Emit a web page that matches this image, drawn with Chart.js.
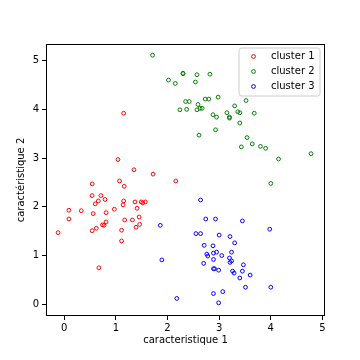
<!DOCTYPE html>
<html><head><meta charset="utf-8">
<script src="https://cdn.jsdelivr.net/npm/chart.js@4/dist/chart.umd.min.js"></script>
<style>html,body{margin:0;padding:0;background:#fff;}</style>
</head><body>
<canvas id="c" width="360" height="360"></canvas>
<script>
const seriesNames = ['cluster 1', 'cluster 2', 'cluster 3'];
const seriesColors = ['#ff0000', '#008000', '#0000ff'];

const cluster1X = [-0.12,0.09,0.09,0.33,0.54,0.54,0.56,0.54,0.60,0.62,0.66,0.71,0.74,0.77,0.79,0.81,0.81,0.97,0.67,1.04,1.07,1.11,1.11,1.15,1.15,1.14,1.16,1.17,1.32,1.35,1.37,1.41,1.39,1.45,1.46,1.49,1.52,1.57,1.72,2.16];
const cluster1Y = [1.47,1.93,1.75,1.92,2.47,2.23,1.86,1.51,2.06,1.56,2.12,2.23,1.63,1.62,2.15,1.88,1.69,1.95,0.75,2.97,2.53,1.52,1.30,3.92,2.12,2.04,2.42,1.73,1.73,2.76,2.10,1.97,1.58,1.79,1.64,2.10,2.08,2.10,2.67,2.53];

const cluster2X = [1.71,2.02,2.15,2.30,2.30,2.57,2.82,2.54,2.24,2.35,2.42,2.37,2.59,2.57,2.63,2.67,2.73,2.80,2.98,2.61,2.88,2.95,2.93,3.15,3.20,3.20,3.30,3.36,3.40,3.40,3.43,3.52,3.54,3.64,3.68,3.80,3.90,4.15,4.00,4.78];
const cluster2Y = [5.11,4.60,4.53,4.74,4.73,4.71,4.72,4.56,3.99,4.16,4.16,4.00,4.10,3.99,4.02,4.02,4.21,4.21,4.25,3.47,3.89,3.84,3.58,3.93,3.84,3.82,4.07,3.95,3.93,3.72,3.23,4.18,3.42,3.29,3.92,3.24,3.20,2.98,2.48,3.09];

const cluster3X = [1.86,1.89,2.18,2.64,2.74,2.93,3.45,2.55,2.64,3.00,3.21,3.30,2.71,2.88,3.98,2.76,2.78,2.95,2.89,3.05,3.24,2.89,3.20,3.24,3.21,2.70,3.47,2.89,2.91,2.99,3.26,3.29,3.45,3.60,3.40,3.51,4.00,3.07,2.89,2.99];
const cluster3Y = [1.62,0.91,0.12,2.14,1.75,1.75,1.71,1.45,1.45,1.42,1.39,1.26,1.21,1.20,1.54,1.03,0.99,1.07,1.05,1.00,1.07,0.92,0.95,0.89,0.86,0.84,0.81,0.73,0.73,0.70,0.68,0.64,0.68,0.60,0.54,0.35,0.35,0.26,0.22,0.03];

const xTicks = [0, 1, 2, 3, 4, 5];
const yTicks = [0, 1, 2, 3, 4, 5];
const xTitle = 'caracteristique 1';
const yTitle = 'caractéristique 2';

const allX = [cluster1X, cluster2X, cluster3X];
const allY = [cluster1Y, cluster2Y, cluster3Y];

const FONT = 'DejaVu Sans';

const datasets = seriesNames.map((name, i) => ({
  label: name,
  data: allX[i].map((x, j) => ({ x: x, y: allY[i][j] })),
  borderColor: seriesColors[i],
  backgroundColor: 'rgba(0,0,0,0)',
  pointRadius: 1.9,
  pointBorderWidth: 1,
  pointHoverRadius: 1.9,
  showLine: false
}));

const frameAndLegend = {
  id: 'frameAndLegend',
  afterDraw(chart) {
    const ctx = chart.ctx;
    const a = chart.chartArea;
    ctx.save();
    ctx.strokeStyle = '#000';
    ctx.lineWidth = 1;
    ctx.strokeRect(Math.round(a.left) + 0.5, Math.round(a.top) + 0.5,
      Math.round(a.right - a.left) - 1, Math.round(a.bottom - a.top) - 1);

    const x0 = a.right - 86, y0 = a.top + 4, w = 81, h = 48, r = 2.5;
    ctx.beginPath();
    ctx.moveTo(x0 + r, y0);
    ctx.lineTo(x0 + w - r, y0);
    ctx.arcTo(x0 + w, y0, x0 + w, y0 + r, r);
    ctx.lineTo(x0 + w, y0 + h - r);
    ctx.arcTo(x0 + w, y0 + h, x0 + w - r, y0 + h, r);
    ctx.lineTo(x0 + r, y0 + h);
    ctx.arcTo(x0, y0 + h, x0, y0 + h - r, r);
    ctx.lineTo(x0, y0 + r);
    ctx.arcTo(x0, y0, x0 + r, y0, r);
    ctx.closePath();
    ctx.fillStyle = 'rgba(255,255,255,0.8)';
    ctx.fill();
    ctx.strokeStyle = '#cccccc';
    ctx.stroke();

    ctx.font = '10px "' + FONT + '"';
    ctx.textBaseline = 'middle';
    ctx.textAlign = 'left';
    chart.data.datasets.forEach((ds, i) => {
      const cy = y0 + 8.5 + i * 15;
      ctx.beginPath();
      ctx.arc(x0 + 14.5, cy, 1.9, 0, Math.PI * 2);
      ctx.strokeStyle = ds.borderColor;
      ctx.lineWidth = 1;
      ctx.stroke();
      ctx.fillStyle = '#000';
      ctx.fillText(ds.label, x0 + 32, cy);
    });
    ctx.restore();
  }
};

new Chart(document.getElementById('c'), {
  type: 'scatter',
  data: { datasets: datasets },
  plugins: [frameAndLegend],
  options: {
    responsive: false,
    animation: false,
    devicePixelRatio: 1,
    layout: { padding: { top: 44, right: 35, left: 0, bottom: 0 } },
    plugins: { legend: { display: false }, tooltip: { enabled: false } },
    scales: {
      x: {
        type: 'linear',
        min: -0.354,
        max: 5.05,
        afterBuildTicks: (s) => { s.ticks = xTicks.map(v => ({ value: v })); },
        afterFit: (s) => { s.height = 44; },
        border: { display: false },
        grid: { drawOnChartArea: false, drawTicks: true, tickLength: 4, color: '#000', tickWidth: 1 },
        ticks: { color: '#000', font: { family: FONT, size: 10 }, padding: 2, maxRotation: 0 },
        title: { display: true, text: xTitle, color: '#000', font: { family: FONT, size: 10 }, padding: { top: 0, bottom: 14 } }
      },
      y: {
        type: 'linear',
        min: -0.24,
        max: 5.34,
        afterBuildTicks: (s) => { s.ticks = yTicks.map(v => ({ value: v })); },
        afterFit: (s) => { s.width = 46; },
        border: { display: false },
        grid: { drawOnChartArea: false, drawTicks: true, tickLength: 4, color: '#000', tickWidth: 1 },
        ticks: { color: '#000', font: { family: FONT, size: 10 }, padding: 3 },
        title: { display: true, text: yTitle, color: '#000', font: { family: FONT, size: 10 }, padding: { top: 15, bottom: 0 } }
      }
    }
  }
});
</script>
</body></html>
